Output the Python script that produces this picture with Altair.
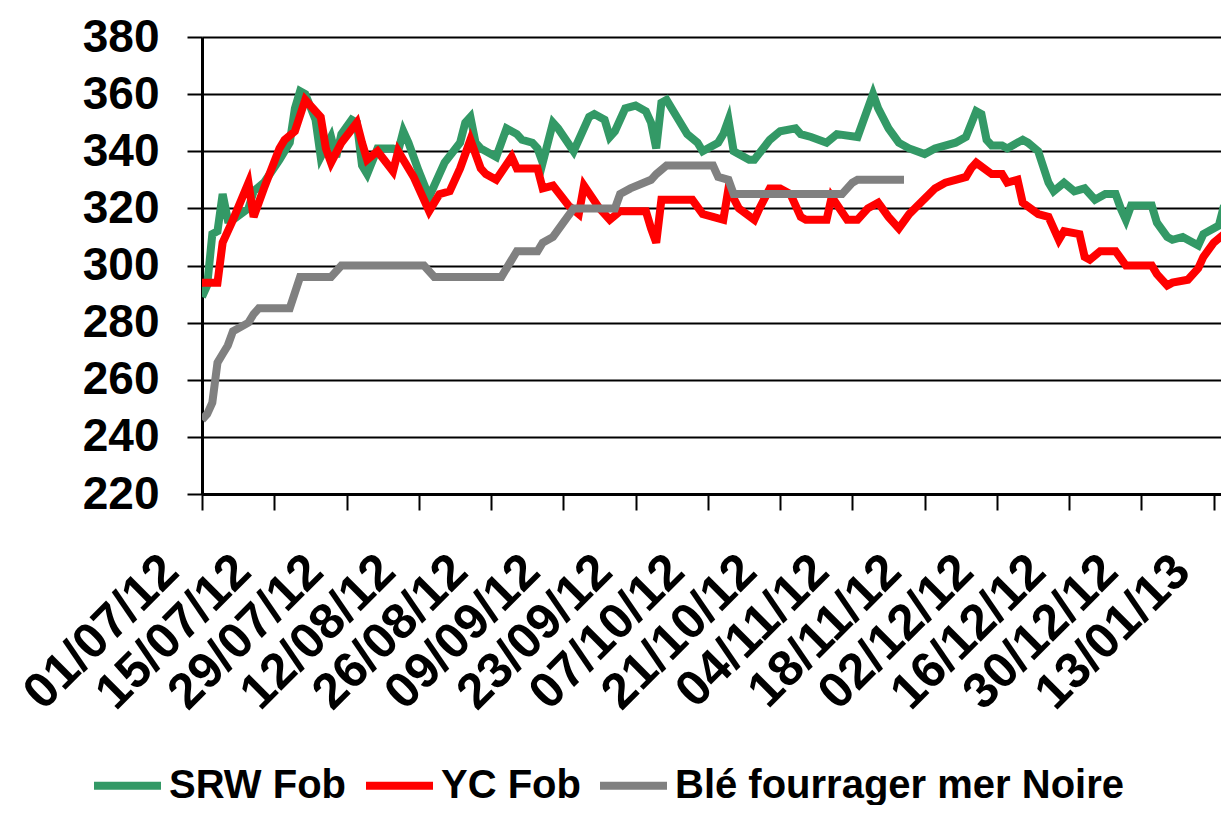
import altair as alt
import pandas as pd

START = "2012-07-01"
END = "2013-01-14T10:00:00"

# (days since 01/07/12, value)
srw_fob = [(0,289),(1,293),(2,311),(3,312),(4,325),(5,316),(6,316),(9,320),(10,326),(12,329),
           (15,337),(17,343),(18,355),(19,361),(20,360),(22,351),(23,338),(25,345),(26,338),(27,346),
           (29,351),(30,350),(31,335),(32,332),(34,341),(37,341),(38,340),(39,347),(40,343),(42,333),
           (44,324),(47,336),(50,343),(51,350),(52,352),(53,343),(54,341),(57,338),(59,348),(61,346),
           (62,344),(64,343),(65,341),(66,336),(68,350),(69,348),(72,340),(75,352),(76,353),(78,351),
           (79,345),(80,347),(82,355),(84,356),(86,354),(87,350),(88,341),(89,357),(90,358),(92,352),
           (94,346),(96,343),(97,340),(100,343),(101,346),(102,351),(103,340),(106,337),(107,337),
           (110,344),(112,347),(115,348),(116,346),(118,345),(121,343),(123,346),(127,345),(128,350),
           (130,360),(131,355),(133,348),(135,343),(137,341),(140,339),(142,341),(146,343),(148,345),
           (150,354),(151,353),(152,344),(153,342),(155,342),(156,341),(159,344),(160,343),(162,340),
           (164,329),(165,326),(167,329),(169,326),(171,327),(173,323),(175,325),(177,325),(178,320),
           (179,316),(180,321),(184,321),(185,315),(187,310),(188,309),(190,310),(193,307),(194,311),
           (197,314),(198,321)]

yc_fob = [(0,294),(3,294),(4,308),(6,316),(9,329),(10,317),(12,327),(15,341),(16,344),(18,347),
          (20,358),(23,352),(24,341),(25,336),(27,343),(30,350),(31,343),(32,337),(34,340),(37,333),
          (38,340),(41,331),(44,319),(46,325),(48,326),(50,334),(52,344),(54,334),(55,332),(57,330),
          (60,338),(61,334),(65,334),(66,327),(68,328),(71,321),(73,318),(74,328),(77,320),(79,316),
          (81,319),(86,319),(87,313),(88,308),(89,323),(95,323),(97,318),(99,317),(101,316),(102,327),
          (104,320),(107,316),(108,320),(110,327),(112,327),(114,325),(116,317),(117,316),(121,316),
          (122,324),(125,316),(127,316),(129,320),(131,322),(133,317),(135,313),(137,318),(142,327),
          (144,329),(146,330),(148,331),(149,334),(150,336),(153,332),(155,332),(156,329),(158,330),
          (159,322),(162,318),(164,317),(166,309),(167,312),(170,311),(171,303),(172,302),(174,305),
          (177,305),(179,300),(184,300),(185,297),(187,293),(188,294),(191,295),(193,299),(194,303),
          (196,308),(198,311)]

ble_mer_noire = [(0,246),(1,248),(2,252),(3,266),(4,269),(5,272),(6,277),(9,280),(10,283),(11,285),
                 (17,285),(19,296),(25,296),(27,300),(43,300),(45,296),(58,296),(61,305),(65,305),
                 (66,308),(68,310),(70,315),(72,320),(80,320),(81,325),(83,327),(87,330),(88,332),
                 (90,335),(99,335),(100,331),(102,330),(103,325),(124,325),(126,329),(127,330),(136,330)]

series_names = ["SRW Fob", "YC Fob", "Blé fourrager mer Noire"]
series_colors = ["#339966", "#FF0000", "#808080"]
tick_labels = ["01/07/12", "15/07/12", "29/07/12", "12/08/12", "26/08/12", "09/09/12", "23/09/12",
               "07/10/12", "21/10/12", "04/11/12", "18/11/12", "02/12/12", "16/12/12", "30/12/12",
               "13/01/13"]
y_ticks = [220, 240, 260, 280, 300, 320, 340, 360, 380]

rows = []
start = pd.Timestamp(START)
for name, pts in zip(series_names, [srw_fob, yc_fob, ble_mer_noire]):
    for d, v in pts:
        rows.append({"date": start + pd.Timedelta(days=d), "value": v, "serie": name})
df = pd.DataFrame(rows)

def dt(s):
    t = pd.Timestamp(s)
    return alt.DateTime(year=t.year, month=t.month, date=t.day, hours=t.hour)

tick_dates = [dt(pd.to_datetime(t, format="%d/%m/%y")) for t in tick_labels]

FONT = "Liberation Sans"

chart = alt.Chart(df).mark_line(strokeWidth=8, strokeJoin="miter", strokeCap="butt", clip=True).encode(
    x=alt.X("date:T",
            scale=alt.Scale(domain=[dt(START), dt(END)], nice=False),
            axis=alt.Axis(values=tick_dates, format="%d/%m/%y", title=None,
                          labelAngle=-45, labelAlign="right", labelBaseline="middle",
                          labelFlush=False, labelOverlap=False, labelBound=False,
                          labelLimit=1000,
                          labelOffset=-32, labelPadding=53,
                          labelFont=FONT, labelFontSize=50, labelFontWeight="bold",
                          labelColor="black", tickSize=16, tickWidth=2, tickColor="black",
                          domainColor="black", domainWidth=3, grid=False)),
    y=alt.Y("value:Q",
            scale=alt.Scale(domain=[220, 380], nice=False, zero=False),
            axis=alt.Axis(values=y_ticks, title=None, grid=True, gridColor="black",
                          gridWidth=2, gridOpacity=1,
                          labelFont=FONT, labelFontSize=46, labelFontWeight="bold",
                          labelColor="black", labelPadding=28,
                          tickSize=15, tickWidth=2, tickColor="black",
                          domainColor="black", domainWidth=3)),
    color=alt.Color("serie:N",
                    scale=alt.Scale(domain=series_names, range=series_colors),
                    legend=alt.Legend(orient="none", legendX=-112, legendY=711,
                                      direction="horizontal", title=None,
                                      symbolType="stroke", symbolStrokeWidth=8,
                                      symbolSize=4489, labelFont=FONT, labelFontSize=40,
                                      labelFontWeight="bold", labelColor="black",
                                      labelOffset=4, columnPadding=3, padding=0,
                                      labelLimit=1000)),
    detail="serie:N",
).properties(
    width=1019,
    height=457,
    autosize=alt.AutoSizeParams(type="none"),
    padding={"left": 194, "top": 29, "right": 0, "bottom": 311},
).configure_view(stroke=None).configure(background="white")

chart.save("out.html", embed_options={"renderer": "svg", "actions": False})
